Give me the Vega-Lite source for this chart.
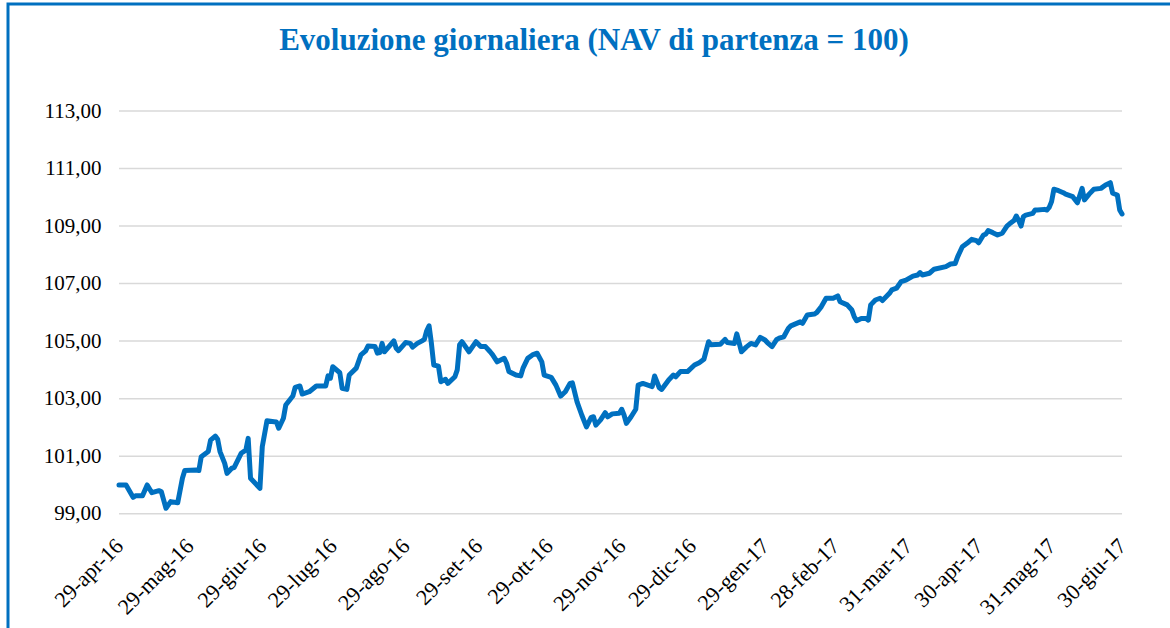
{
  "$schema": "https://vega.github.io/schema/vega-lite/v6.json",
  "autosize": "none",
  "width": 1162,
  "height": 624,
  "padding": {"left": 8, "top": 4, "right": 0, "bottom": 0},
  "background": "white",
  "config": {
    "locale": {
      "number": {"decimal": ",", "thousands": ".", "grouping": [3], "currency": ["€", ""]},
      "time": {
        "dateTime": "%A %e %B %Y, %X",
        "date": "%d/%m/%Y",
        "time": "%H:%M:%S",
        "periods": ["AM", "PM"],
        "days": ["domenica", "lunedì", "martedì", "mercoledì", "giovedì", "venerdì", "sabato"],
        "shortDays": ["dom", "lun", "mar", "mer", "gio", "ven", "sab"],
        "months": ["gennaio", "febbraio", "marzo", "aprile", "maggio", "giugno", "luglio", "agosto", "settembre", "ottobre", "novembre", "dicembre"],
        "shortMonths": ["gen", "feb", "mar", "apr", "mag", "giu", "lug", "ago", "set", "ott", "nov", "dic"]
      }
    },
    "view": {"stroke": "#0070C0", "strokeWidth": 3, "strokeDash": [1162, 1786, 624]},
    "font": "Liberation Serif",
    "axis": {"labelFont": "Liberation Serif", "labelFontSize": 21, "labelColor": "#000000", "domain": false, "ticks": false, "grid": false, "title": null, "labelOverlap": false, "labelFlush": false},
    "axisX": {"offset": -112, "labelAngle": -45, "labelAlign": "right", "labelBaseline": "middle", "labelPadding": 26, "labelFontSize": 22},
    "axisY": {"offset": -93, "labelPadding": 0},
    "title": {"font": "Liberation Serif", "fontSize": 31, "fontWeight": "bold", "color": "#0070C0"}
  },
  "title": {"text": "Evoluzione giornaliera (NAV di partenza = 100)", "anchor": "middle", "frame": "group", "baseline": "alphabetic", "offset": -77, "dx": 5},
  "datasets": {
    "grid": [{"g": 99}, {"g": 101}, {"g": 103}, {"g": 105}, {"g": 107}, {"g": 109}, {"g": 111}, {"g": 113}],
    "nav": [
      {"d":"2016-04-29","v":100.00},{"d":"2016-05-02","v":100.00},{"d":"2016-05-05","v":99.57},{"d":"2016-05-06","v":99.62},{"d":"2016-05-09","v":99.62},{"d":"2016-05-11","v":100.00},{"d":"2016-05-13","v":99.73},{"d":"2016-05-16","v":99.80},{"d":"2016-05-17","v":99.77},{"d":"2016-05-18","v":99.48},{"d":"2016-05-19","v":99.19},{"d":"2016-05-21","v":99.42},{"d":"2016-05-24","v":99.38},{"d":"2016-05-26","v":100.23},{"d":"2016-05-27","v":100.50},
      {"d":"2016-06-01","v":100.52},{"d":"2016-06-02","v":100.50},{"d":"2016-06-03","v":100.98},{"d":"2016-06-06","v":101.16},{"d":"2016-06-07","v":101.56},{"d":"2016-06-09","v":101.70},{"d":"2016-06-10","v":101.59},{"d":"2016-06-11","v":101.16},{"d":"2016-06-13","v":100.75},{"d":"2016-06-14","v":100.40},{"d":"2016-06-16","v":100.58},{"d":"2016-06-17","v":100.60},{"d":"2016-06-20","v":101.10},{"d":"2016-06-22","v":101.21},{"d":"2016-06-23","v":101.62},{"d":"2016-06-24","v":100.23},{"d":"2016-06-28","v":99.88},{"d":"2016-06-29","v":101.33},
      {"d":"2016-07-01","v":102.23},{"d":"2016-07-04","v":102.20},{"d":"2016-07-05","v":102.19},{"d":"2016-07-06","v":101.97},{"d":"2016-07-08","v":102.32},{"d":"2016-07-09","v":102.78},{"d":"2016-07-12","v":103.09},{"d":"2016-07-13","v":103.39},{"d":"2016-07-15","v":103.44},{"d":"2016-07-16","v":103.16},{"d":"2016-07-19","v":103.24},{"d":"2016-07-22","v":103.44},{"d":"2016-07-26","v":103.44},{"d":"2016-07-27","v":103.79},{"d":"2016-07-28","v":103.71},{"d":"2016-07-29","v":104.11},
      {"d":"2016-08-01","v":103.90},{"d":"2016-08-02","v":103.36},{"d":"2016-08-04","v":103.32},{"d":"2016-08-05","v":103.82},{"d":"2016-08-08","v":104.06},{"d":"2016-08-10","v":104.52},{"d":"2016-08-12","v":104.66},{"d":"2016-08-13","v":104.83},{"d":"2016-08-16","v":104.81},{"d":"2016-08-17","v":104.58},{"d":"2016-08-18","v":104.60},{"d":"2016-08-19","v":104.92},{"d":"2016-08-20","v":104.63},{"d":"2016-08-21","v":104.72},{"d":"2016-08-24","v":105.01},{"d":"2016-08-25","v":104.75},{"d":"2016-08-26","v":104.67},{"d":"2016-08-29","v":104.95},{"d":"2016-08-31","v":104.92},
      {"d":"2016-09-01","v":104.79},{"d":"2016-09-03","v":104.92},{"d":"2016-09-05","v":105.01},{"d":"2016-09-06","v":105.06},{"d":"2016-09-07","v":105.36},{"d":"2016-09-08","v":105.53},{"d":"2016-09-09","v":104.92},{"d":"2016-09-10","v":104.17},{"d":"2016-09-12","v":104.13},{"d":"2016-09-13","v":103.59},{"d":"2016-09-15","v":103.67},{"d":"2016-09-16","v":103.53},{"d":"2016-09-19","v":103.76},{"d":"2016-09-20","v":104.00},{"d":"2016-09-21","v":104.87},{"d":"2016-09-22","v":104.98},{"d":"2016-09-25","v":104.63},{"d":"2016-09-28","v":104.98},{"d":"2016-09-30","v":104.81},
      {"d":"2016-10-02","v":104.81},{"d":"2016-10-04","v":104.63},{"d":"2016-10-05","v":104.53},{"d":"2016-10-07","v":104.28},{"d":"2016-10-10","v":104.40},{"d":"2016-10-11","v":104.23},{"d":"2016-10-12","v":103.94},{"d":"2016-10-15","v":103.82},{"d":"2016-10-17","v":103.79},{"d":"2016-10-18","v":104.06},{"d":"2016-10-20","v":104.40},{"d":"2016-10-22","v":104.52},{"d":"2016-10-24","v":104.58},{"d":"2016-10-26","v":104.28},{"d":"2016-10-27","v":103.82},{"d":"2016-10-30","v":103.74},
      {"d":"2016-11-01","v":103.47},{"d":"2016-11-03","v":103.09},{"d":"2016-11-05","v":103.24},{"d":"2016-11-07","v":103.53},{"d":"2016-11-08","v":103.55},{"d":"2016-11-10","v":102.89},{"d":"2016-11-12","v":102.43},{"d":"2016-11-14","v":102.02},{"d":"2016-11-16","v":102.35},{"d":"2016-11-17","v":102.37},{"d":"2016-11-18","v":102.08},{"d":"2016-11-20","v":102.26},{"d":"2016-11-22","v":102.51},{"d":"2016-11-23","v":102.37},{"d":"2016-11-25","v":102.47},{"d":"2016-11-28","v":102.49},{"d":"2016-11-29","v":102.63},{"d":"2016-11-30","v":102.43},
      {"d":"2016-12-01","v":102.14},{"d":"2016-12-03","v":102.37},{"d":"2016-12-05","v":102.63},{"d":"2016-12-06","v":103.47},{"d":"2016-12-08","v":103.53},{"d":"2016-12-12","v":103.42},{"d":"2016-12-13","v":103.79},{"d":"2016-12-15","v":103.38},{"d":"2016-12-16","v":103.32},{"d":"2016-12-19","v":103.65},{"d":"2016-12-21","v":103.82},{"d":"2016-12-22","v":103.76},{"d":"2016-12-24","v":103.94},{"d":"2016-12-27","v":103.94},{"d":"2016-12-30","v":104.17},
      {"d":"2017-01-01","v":104.25},{"d":"2017-01-03","v":104.37},{"d":"2017-01-05","v":104.98},{"d":"2017-01-06","v":104.87},{"d":"2017-01-10","v":104.89},{"d":"2017-01-12","v":105.06},{"d":"2017-01-13","v":104.95},{"d":"2017-01-16","v":104.92},{"d":"2017-01-17","v":105.25},{"d":"2017-01-19","v":104.63},{"d":"2017-01-21","v":104.79},{"d":"2017-01-23","v":104.92},{"d":"2017-01-25","v":104.87},{"d":"2017-01-27","v":105.13},{"d":"2017-01-29","v":105.04},{"d":"2017-01-30","v":104.95},
      {"d":"2017-02-01","v":104.81},{"d":"2017-02-03","v":105.06},{"d":"2017-02-04","v":105.10},{"d":"2017-02-06","v":105.15},{"d":"2017-02-08","v":105.45},{"d":"2017-02-09","v":105.53},{"d":"2017-02-11","v":105.60},{"d":"2017-02-13","v":105.67},{"d":"2017-02-14","v":105.62},{"d":"2017-02-16","v":105.91},{"d":"2017-02-19","v":105.94},{"d":"2017-02-20","v":105.99},{"d":"2017-02-22","v":106.20},{"d":"2017-02-24","v":106.49},{"d":"2017-02-27","v":106.49},
      {"d":"2017-03-01","v":106.57},{"d":"2017-03-02","v":106.37},{"d":"2017-03-05","v":106.26},{"d":"2017-03-07","v":106.08},{"d":"2017-03-08","v":105.85},{"d":"2017-03-09","v":105.71},{"d":"2017-03-11","v":105.79},{"d":"2017-03-13","v":105.79},{"d":"2017-03-14","v":105.73},{"d":"2017-03-15","v":106.26},{"d":"2017-03-17","v":106.43},{"d":"2017-03-19","v":106.49},{"d":"2017-03-20","v":106.41},{"d":"2017-03-23","v":106.66},{"d":"2017-03-24","v":106.78},{"d":"2017-03-26","v":106.84},{"d":"2017-03-28","v":107.07},{"d":"2017-03-30","v":107.12},
      {"d":"2017-04-02","v":107.26},{"d":"2017-04-04","v":107.30},{"d":"2017-04-05","v":107.38},{"d":"2017-04-06","v":107.30},{"d":"2017-04-09","v":107.36},{"d":"2017-04-11","v":107.50},{"d":"2017-04-16","v":107.59},{"d":"2017-04-18","v":107.68},{"d":"2017-04-20","v":107.70},{"d":"2017-04-21","v":107.93},{"d":"2017-04-23","v":108.28},{"d":"2017-04-25","v":108.40},{"d":"2017-04-27","v":108.54},{"d":"2017-04-29","v":108.49},{"d":"2017-04-30","v":108.42},
      {"d":"2017-05-02","v":108.69},{"d":"2017-05-03","v":108.72},{"d":"2017-05-04","v":108.84},{"d":"2017-05-06","v":108.77},{"d":"2017-05-08","v":108.69},{"d":"2017-05-10","v":108.75},{"d":"2017-05-12","v":109.00},{"d":"2017-05-13","v":109.07},{"d":"2017-05-15","v":109.19},{"d":"2017-05-16","v":109.35},{"d":"2017-05-17","v":109.19},{"d":"2017-05-18","v":109.00},{"d":"2017-05-19","v":109.33},{"d":"2017-05-20","v":109.38},{"d":"2017-05-23","v":109.44},{"d":"2017-05-24","v":109.56},{"d":"2017-05-25","v":109.56},{"d":"2017-05-28","v":109.58},{"d":"2017-05-29","v":109.56},{"d":"2017-05-30","v":109.65},{"d":"2017-05-31","v":109.85},
      {"d":"2017-06-01","v":110.28},{"d":"2017-06-03","v":110.23},{"d":"2017-06-05","v":110.16},{"d":"2017-06-06","v":110.11},{"d":"2017-06-09","v":110.02},{"d":"2017-06-11","v":109.81},{"d":"2017-06-13","v":110.31},{"d":"2017-06-14","v":109.91},{"d":"2017-06-16","v":110.11},{"d":"2017-06-18","v":110.28},{"d":"2017-06-21","v":110.31},{"d":"2017-06-23","v":110.43},{"d":"2017-06-25","v":110.51},{"d":"2017-06-26","v":110.14},{"d":"2017-06-28","v":110.08},{"d":"2017-06-29","v":109.56},{"d":"2017-06-30","v":109.42}
    ]
  },
  "layer": [
    {
      "data": {"name": "grid"},
      "mark": {"type": "rule", "color": "#d9d9d9", "strokeWidth": 1.5},
      "encoding": {
        "y": {"field": "g", "type": "quantitative", "axis": {"values": [99, 101, 103, 105, 107, 109, 111, 113], "format": ".2f"}},
        "x": {"datum": {"year": 2016, "month": 4, "date": 29, "utc": true}, "type": "temporal", "axis": {"format": "%d-%b-%y", "values": [
              {"year": 2016, "month": 4, "date": 29, "utc": true},
              {"year": 2016, "month": 5, "date": 29, "utc": true},
              {"year": 2016, "month": 6, "date": 29, "utc": true},
              {"year": 2016, "month": 7, "date": 29, "utc": true},
              {"year": 2016, "month": 8, "date": 29, "utc": true},
              {"year": 2016, "month": 9, "date": 29, "utc": true},
              {"year": 2016, "month": 10, "date": 29, "utc": true},
              {"year": 2016, "month": 11, "date": 29, "utc": true},
              {"year": 2016, "month": 12, "date": 29, "utc": true},
              {"year": 2017, "month": 1, "date": 29, "utc": true},
              {"year": 2017, "month": 2, "date": 28, "utc": true},
              {"year": 2017, "month": 3, "date": 31, "utc": true},
              {"year": 2017, "month": 4, "date": 30, "utc": true},
              {"year": 2017, "month": 5, "date": 31, "utc": true},
              {"year": 2017, "month": 6, "date": 30, "utc": true}
            ]}},
        "x2": {"datum": {"year": 2017, "month": 6, "date": 30, "utc": true}}
      }
    },
    {
      "data": {"name": "nav"},
      "mark": {"type": "line", "color": "#0070C0", "strokeWidth": 5, "strokeJoin": "round", "strokeCap": "round"},
      "encoding": {
        "x": {
          "field": "d", "type": "temporal",
          "scale": {"type": "utc", "domain": [{"year": 2016, "month": 3, "date": 12, "hours": 18, "utc": true}, {"year": 2017, "month": 7, "date": 20, "hours": 10, "utc": true}]}
        },
        "y": {
          "field": "v", "type": "quantitative",
          "scale": {"domain": [95.026, 116.72], "nice": false, "zero": false}
        }
      }
    }
  ]
}
